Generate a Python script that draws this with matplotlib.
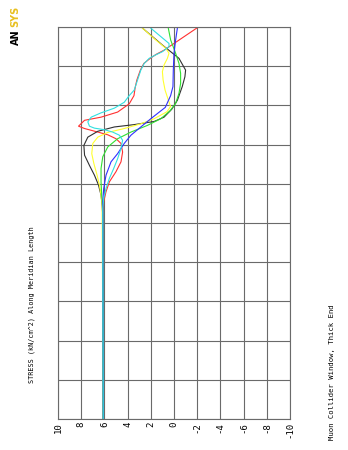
import matplotlib
matplotlib.use("Agg")
import matplotlib.pyplot as plt

# meridian length (grid units, 0..10) and stress (kN/cm^2) for each path
red_len = [0, 5.2, 5.54, 5.80, 6.05, 6.31, 6.56, 6.81, 7.03, 7.15, 7.25, 7.32, 7.41,
           7.47, 7.62, 7.70, 7.83, 8.04, 8.25, 8.45, 8.65, 8.90, 9.07, 9.20, 9.30,
           9.41, 9.70, 9.98]
red_s = [6.1, 6.12, 6.06, 5.86, 5.57, 5.0, 4.57, 4.43, 4.57, 5.0, 5.71, 6.57, 7.71,
         8.23, 7.71, 6.29, 4.86, 3.86, 3.45, 3.35, 3.2, 2.9, 2.6, 2.05, 1.55,
         0.85, -0.6, -2.0]

black_len = [0, 5.20, 5.46, 5.71, 5.97, 6.22, 6.47, 6.73, 6.98, 7.19, 7.34, 7.45,
             7.51, 7.59, 7.70, 7.90, 8.13, 8.48, 8.73, 8.90, 9.20, 9.54, 9.97]
black_s = [6.1, 6.14, 6.2, 6.29, 6.51, 6.86, 7.29, 7.71, 7.77, 7.43, 6.57, 5.14,
           3.43, 1.71, 0.86, 0.2, -0.29, -0.71, -0.94, -1.0, -0.43, 1.0, 2.71]

yellow_len = [0, 5.46, 5.71, 5.97, 6.22, 6.52, 6.77, 7.03, 7.19, 7.31, 7.41, 7.53,
              7.66, 7.84, 7.97, 8.14, 8.39, 8.65, 8.86, 9.03, 9.20, 9.33, 9.46,
              9.67, 9.97]
yellow_s = [6.1, 6.2, 6.29, 6.43, 6.63, 6.91, 7.09, 7.0, 6.57, 5.71, 4.29, 2.86,
            1.71, 0.6, 0.3, 0.49, 0.77, 0.94, 1.0, 0.86, 0.57, 0.43, 0.71,
            1.57, 2.71]

green_len = [0, 5.37, 5.71, 6.05, 6.39, 6.69, 6.94, 7.15, 7.32, 7.49, 7.66, 7.86,
             8.05, 8.31, 8.56, 8.82, 9.07, 9.33, 9.67, 9.97]
green_s = [6.1, 6.14, 6.23, 6.29, 6.29, 6.14, 5.71, 4.86, 3.71, 2.29, 1.14, 0.35,
           -0.14, -0.43, -0.57, -0.57, -0.43, -0.14, 0.29, 0.49]

blue_len = [0, 5.54, 5.88, 6.22, 6.56, 6.77, 7.03, 7.24, 7.45, 7.66, 7.95, 8.25,
            8.48, 8.90, 9.33, 9.67, 9.97]
blue_s = [6.1, 6.14, 6.06, 5.86, 5.43, 4.86, 4.29, 3.71, 2.86, 2.0, 0.75, 0.29,
          0.09, 0.06, 0.0, -0.14, -0.29]

cyan_len = [0, 5.37, 5.63, 5.88, 6.14, 6.39, 6.64, 6.90, 7.11, 7.24, 7.32, 7.38,
            7.42, 7.47, 7.58, 7.70, 7.81, 7.93, 8.08, 8.25, 8.39, 8.65, 8.90,
            9.07, 9.20, 9.29, 9.37, 9.50, 9.58, 9.97]
cyan_s = [6.1, 6.14, 6.06, 5.86, 5.57, 5.2, 4.86, 4.57, 4.43, 4.71, 5.29, 6.0,
          6.86, 7.29, 7.43, 7.14, 6.29, 5.14, 4.29, 3.86, 3.43, 3.14, 2.86,
          2.57, 2.14, 1.57, 1.0, 0.43, 0.43, 2.0]

stress_ticks = [10, 8, 6, 4, 2, 0, -2, -4, -6, -8, -10]

plt.rcParams['axes.unicode_minus'] = False
mono = 'DejaVu Sans Mono'

fig = plt.figure(figsize=(3.48, 4.5), dpi=100)
ax = fig.add_axes([58 / 348, 31 / 450, 232 / 348, 392 / 450])

paths = [(red_len, red_s, '#ff3030'), (black_len, black_s, '#303030'),
         (yellow_len, yellow_s, '#ffff30'), (green_len, green_s, '#30e030'),
         (blue_len, blue_s, '#3030ff'), (cyan_len, cyan_s, '#30e0e0')]
for L, s, c in paths:
    ax.plot(s, L, color=c, lw=0.8)

ax.set_xlim(10, -10)
ax.set_ylim(0, 10)
ax.set_xticks(stress_ticks)
ax.set_xticklabels([str(t) for t in stress_ticks], rotation=90,
                   fontsize=6.5, family=mono, va='top')
ax.set_yticks(range(11))
ax.set_yticklabels([])
ax.tick_params(length=0, pad=2)
ax.grid(True, color='#6a6a6a', lw=0.8)
ax.set_axisbelow(True)
for sp in ax.spines.values():
    sp.set_color('#6a6a6a')
    sp.set_linewidth(0.8)

fig.text(32 / 348, 1 - 305 / 450, 'STRESS (kN/cm^2) Along Meridian Length',
         rotation=90, ha='center', va='center', fontsize=4.9, family=mono)
fig.text(332 / 348, 1 - 440 / 450, 'Muon Collider Window, Thick End',
         rotation=90, ha='center', va='bottom', fontsize=5.2, family=mono)
fig.text(15.5 / 348, 1 - 45 / 450, 'AN', rotation=90, ha='center', va='bottom',
         fontsize=7, weight='bold')
fig.text(15.5 / 348, 1 - 27 / 450, 'SYS', rotation=90, ha='center', va='bottom',
         fontsize=7, weight='bold', color='#e8c020')

fig.savefig('out.png', dpi=100)
